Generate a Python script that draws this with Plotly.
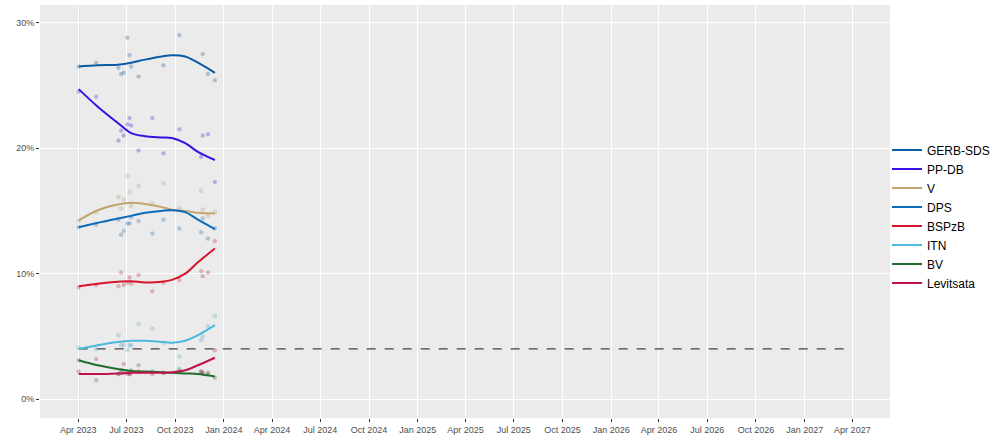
import plotly.graph_objects as go

# ---- data ----
poll_dates = ["2023-04-02", "2023-05-05", "2023-06-16", "2023-06-21", "2023-06-26",
              "2023-07-03", "2023-07-07", "2023-07-10", "2023-07-24", "2023-08-19",
              "2023-09-09", "2023-10-09", "2023-11-19", "2023-11-22", "2023-12-02",
              "2023-12-15"]

gerb_polls = [26.5, 26.8, 26.4, 25.9, 26.0, 28.8, 27.4, 26.5, 25.7, None, 26.6, 29.0, None, 27.5, 25.9, 25.4]
ppdb_polls = [24.5, 24.1, 20.6, 21.4, 21.0, 21.9, 22.4, 21.8, 19.8, 22.4, 19.6, 21.5, 19.3, 21.0, 21.1, 17.3]
v_polls = [14.2, 14.9, 16.1, 15.2, 15.9, 17.8, 16.5, 15.4, 17.0, 15.6, 17.2, 15.2, 16.6, 15.1, 14.6, 14.9]
dps_polls = [13.7, 13.9, 14.3, 13.1, 13.4, 14.0, 14.0, 14.5, 14.2, 13.2, 14.3, 13.6, 13.3, 14.4, 12.8, 13.6]
bsp_polls = [8.9, 9.1, 9.0, 10.1, 9.1, 9.3, 9.7, 9.2, 9.9, 8.6, 9.3, 9.5, 10.2, 9.8, 10.1, 12.6]
itn_polls = [4.1, 4.0, 5.1, 4.3, 4.3, 3.9, 4.3, 4.3, 6.0, 5.6, 4.5, 3.4, 4.7, 5.0, 5.8, 6.6]
bv_polls = [3.1, 1.5, 2.0, 2.3, 2.1, 2.2, 2.0, 2.3, 2.7, 2.2, 2.1, 2.4, 2.2, 2.0, 2.1, 1.7]
lev_polls = [2.2, 3.2, 2.0, 2.1, 2.8, 2.0, 2.0, 2.1, 2.2, 2.0, 2.1, 2.2, 2.2, 2.1, 2.0, 3.9]

trend_dates = ["2023-04-02", "2023-05-08", "2023-06-15", "2023-07-10", "2023-08-05",
               "2023-09-06", "2023-09-25", "2023-10-20", "2023-11-13", "2023-12-15"]
gerb_trend = [26.5, 26.6, 26.65, 26.8, 27.05, 27.3, 27.4, 27.3, 26.8, 26.0]
ppdb_trend = [24.7, 23.3, 22.0, 21.2, 20.95, 20.85, 20.8, 20.4, 19.7, 19.05]
v_trend = [14.25, 15.05, 15.5, 15.65, 15.55, 15.3, 15.1, 15.0, 14.85, 14.8]
dps_trend = [13.7, 14.05, 14.4, 14.6, 14.85, 15.0, 15.05, 14.9, 14.3, 13.55]
bsp_trend = [9.0, 9.2, 9.35, 9.4, 9.3, 9.35, 9.5, 10.0, 10.9, 12.0]
itn_trend = [4.0, 4.3, 4.55, 4.65, 4.65, 4.55, 4.5, 4.65, 5.1, 5.9]
bv_trend = [3.1, 2.7, 2.4, 2.25, 2.2, 2.15, 2.1, 2.05, 2.0, 1.8]
lev_trend = [2.0, 2.0, 2.05, 2.1, 2.1, 2.1, 2.15, 2.3, 2.7, 3.3]

parties = ["GERB-SDS", "PP-DB", "V", "DPS", "BSPzB", "ITN", "BV", "Levitsata"]
colors = ["#0A5BA6", "#3A0FE6", "#C4A46E", "#0A6BBA", "#D8142C", "#4BB8DE", "#1F6E2C", "#C0124E"]
polls = [gerb_polls, ppdb_polls, v_polls, dps_polls, bsp_polls, itn_polls, bv_polls, lev_polls]
trends = [gerb_trend, ppdb_trend, v_trend, dps_trend, bsp_trend, itn_trend, bv_trend, lev_trend]

election_dates = ["2023-04-02", "2027-04-01"]
threshold = [4, 4]

x_range = ["2023-01-19", "2027-06-11"]
y_ticks = [0, 10, 20, 30]
y_tick_labels = ["0%", "10%", "20%", "30%"]

fig = go.Figure()

# threshold dashed line
fig.add_trace(go.Scatter(x=election_dates, y=threshold, mode="lines",
                         line=dict(color="#444444", width=1.3, dash="dash"),
                         showlegend=False, hoverinfo="skip"))

for name, col, p in zip(parties, colors, polls):
    fig.add_trace(go.Scatter(x=poll_dates, y=p, mode="markers",
                             marker=dict(color=col, size=4, opacity=0.3,
                                         line=dict(color="rgba(90,90,90,0.6)", width=0.6)),
                             showlegend=False, hoverinfo="skip"))

for name, col, t in zip(parties, colors, trends):
    fig.add_trace(go.Scatter(x=trend_dates, y=t, mode="lines", name=name,
                             line=dict(color=col, width=2, shape="spline", smoothing=1.0)))

shapes = []
for d in election_dates:
    shapes.append(dict(type="line", xref="x", yref="paper", x0=d, x1=d, y0=0, y1=1,
                       line=dict(color="#C8C8C8", width=1), layer="below"))

fig.update_layout(
    width=1000, height=444,
    margin=dict(l=40, r=110, t=5, b=26, autoexpand=False),
    paper_bgcolor="white",
    plot_bgcolor="#EBEBEB",
    font=dict(family="Liberation Sans, Arial, sans-serif", color="#4D4D4D"),
    shapes=shapes,
    showlegend=True,
    legend=dict(x=(887 - 40) / 850, y=0.488, xanchor="left", yanchor="middle",
                font=dict(size=12, color="black"), bgcolor="rgba(0,0,0,0)",
                itemwidth=30, tracegroupgap=0),
    xaxis=dict(range=x_range, type="date", tick0="2023-04-01", dtick="M3",
               tickformat="%b %Y", showgrid=True, gridcolor="white", gridwidth=1,
               zeroline=False, ticks="outside", ticklen=3, tickcolor="#333333",
               tickfont=dict(size=9, color="#4D4D4D"), showline=False, automargin=False),
    yaxis=dict(range=[-1.5, 31.4], tickvals=y_ticks, ticktext=y_tick_labels,
               showgrid=True, gridcolor="white", gridwidth=1, zeroline=False,
               ticks="outside", ticklen=3, tickcolor="#333333",
               tickfont=dict(size=9, color="#4D4D4D"), showline=False, automargin=False),
)

fig.write_html("out.html", config={"displayModeBar": False},
               post_script="document.body.style.margin='0';")
